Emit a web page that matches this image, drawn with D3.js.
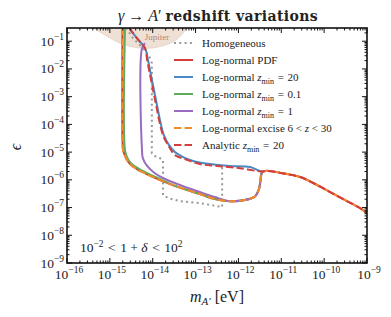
<!DOCTYPE html>
<html>
<head>
<meta charset="utf-8">
<script src="https://cdn.jsdelivr.net/npm/d3@7/dist/d3.min.js"></script>
<style>
  body { margin: 0; background: #fff; }
</style>
</head>
<body>
<svg id="chart" width="391" height="317" font-family="'Liberation Serif', 'Times New Roman', serif"></svg>
<script>
"use strict";
// all curves as [log10 m_A' (eV), log10 epsilon]
const homogeneous = [[-14.62,-0.52],[-14.46,-0.89],[-14.25,-1.22],[-14.09,-1.50],[-14.02,-1.79],[-14.02,-5.04],
    [-13.95,-5.14],[-13.83,-5.22],[-13.76,-5.29],[-13.76,-6.55],[-13.64,-6.66],[-13.36,-6.77],[-12.90,-6.84],
    [-12.38,-6.98],[-12.38,-5.50]];
const lognormalPDF = [[-14.705,-0.52],[-14.705,-4.57],[-14.69,-4.93],[-14.62,-5.22],[-14.53,-5.43],[-14.37,-5.61],
    [-14.18,-5.76],[-13.99,-5.90],[-13.53,-6.19],[-12.90,-6.51],[-12.55,-6.69],[-12.20,-6.77],[-11.85,-6.73],
    [-11.61,-6.59],[-11.52,-6.33],[-11.485,-6.01],[-11.46,-5.76],[-11.38,-5.68],[-10.98,-5.76],[-10.56,-5.90],
    [-10.21,-6.15],[-9.86,-6.44],[-9.51,-6.73],[-9.16,-7.02],[-9.0,-7.20]];
const zmin20 = [[-14.55,-0.52],[-14.37,-0.89],[-14.18,-1.25],[-14.11,-1.68],[-14.04,-2.23],[-13.97,-2.77],
    [-13.90,-3.31],[-13.83,-3.85],[-13.74,-4.39],[-13.62,-4.75],[-13.48,-5.00],[-13.29,-5.18],[-13.06,-5.32],
    [-12.66,-5.43],[-12.20,-5.50],[-11.73,-5.54],[-11.46,-5.70],[-11.38,-5.68]];
const zmin01 = [[-14.647,-0.52],[-14.647,-4.93],[-14.60,-5.18],[-14.51,-5.40],[-14.37,-5.56],[-14.13,-5.76],
    [-13.83,-5.97],[-13.53,-6.19],[-12.90,-6.51],[-12.55,-6.69],[-12.20,-6.77],[-11.85,-6.73],[-11.61,-6.59],
    [-11.52,-6.33],[-11.485,-6.01],[-11.46,-5.76]];
const zmin1 = [[-14.18,-1.07],[-14.25,-1.25],[-14.25,-4.93],[-14.23,-5.22],[-14.13,-5.50],[-13.95,-5.76],
    [-13.71,-5.97],[-13.29,-6.23],[-12.90,-6.44],[-12.55,-6.62],[-12.20,-6.77],[-11.85,-6.73],[-11.61,-6.59],
    [-11.52,-6.33],[-11.485,-6.01],[-11.46,-5.76]];
const excise = lognormalPDF;
const analytic20 = [[-14.55,-0.52],[-14.37,-0.89],[-14.18,-1.25],[-14.13,-1.68],[-14.06,-2.23],[-13.99,-2.77],
    [-13.92,-3.31],[-13.85,-3.85],[-13.76,-4.39],[-13.64,-4.75],[-13.48,-5.11],[-13.25,-5.25],[-12.90,-5.43],
    [-12.50,-5.50],[-11.96,-5.58],[-11.46,-5.70],[-11.38,-5.68],[-10.98,-5.76],[-10.56,-5.90],[-10.21,-6.15],
    [-9.86,-6.44],[-9.51,-6.73],[-9.16,-7.02],[-9.0,-7.20]];
const jupiter = [[-15.39,-0.52],[-15.11,-0.78],[-14.76,-1.07],[-14.41,-1.22],[-14.06,-1.25],[-13.71,-1.14],
    [-13.43,-0.93],[-13.2,-0.52]];

const xTickExps = [-16, -15, -14, -13, -12, -11, -10, -9];
const yTickExps = [-9, -8, -7, -6, -5, -4, -3, -2, -1];

const sp = "\u2004"; // wider math spacing around relations
const series = [
    { name: "homog", data: homogeneous, color: "#999999", dash: "2,3.3", label: [["Homogeneous"]] },
    { name: "pdf", data: lognormalPDF, color: "#d43d3a", dash: null, label: [["Log-normal PDF"]] },
    { name: "z20", data: zmin20, color: "#4a89c2", dash: null, label: [["Log-normal "], ["z", "i"], ["min", "sub"], [sp + "=" + sp + "20", "up"]] },
    { name: "z01", data: zmin01, color: "#5eab5a", dash: null, label: [["Log-normal "], ["z", "i"], ["min", "sub"], [sp + "=" + sp + "0.1", "up"]] },
    { name: "z1", data: zmin1, color: "#9a6cc0", dash: null, label: [["Log-normal "], ["z", "i"], ["min", "sub"], [sp + "=" + sp + "1", "up"]] },
    { name: "excise", data: excise, color: "#f28a2a", dash: "7.4,3.2", label: [["Log-normal excise 6 < "], ["z", "i"], [" < 30"]] },
    { name: "analytic", data: analytic20, color: "#d43d3a", dash: "7.4,3.2", label: [["Analytic "], ["z", "i"], ["min", "sub"], [sp + "=" + sp + "20", "up"]] }
];

function drawChart() {
    const svg = d3.select("#chart");
    const x0 = 67, x1 = 367, y0 = 28, y1 = 263;
    const ink = "#222";

    const x = d3.scaleLog().domain([1e-16, 1e-9]).range([x0, x1]);
    const y = d3.scaleLog().domain([1e-9, 0.3]).range([y1, y0]);
    const px = d => x(10 ** d[0]);
    const py = d => y(10 ** d[1]);

    svg.append("clipPath").attr("id", "clip")
        .append("rect").attr("x", x0).attr("y", y0).attr("width", x1 - x0).attr("height", y1 - y0);

    const plot = svg.append("g").attr("clip-path", "url(#clip)");

    // Jupiter region
    plot.append("path")
        .datum(jupiter)
        .attr("d", d3.line().x(px).y(py).curve(d3.curveCatmullRom.alpha(0.5)))
        .attr("fill", "#efe0d6")
        .attr("stroke", "#e4cfc2")
        .attr("stroke-width", 0.8);
    svg.append("text")
        .attr("x", x(10 ** -13.9)).attr("y", 40)
        .attr("text-anchor", "middle")
        .attr("font-size", 9)
        .attr("fill", "#b5876f")
        .text("Jupiter");

    const smooth = d3.line().x(px).y(py).curve(d3.curveCatmullRom.alpha(0.5));
    const straight = d3.line().x(px).y(py);

    plot.selectAll("path.curve")
        .data(series)
        .enter()
        .append("path")
        .attr("class", "curve")
        .attr("d", s => s.name === "homog" ? straight(s.data) : smooth(s.data))
        .attr("fill", "none")
        .attr("stroke", s => s.color)
        .attr("stroke-width", 2)
        .attr("stroke-dasharray", s => s.dash)
        .attr("stroke-linejoin", "round");

    // frame
    svg.append("rect")
        .attr("x", x0).attr("y", y0).attr("width", x1 - x0).attr("height", y1 - y0)
        .attr("fill", "none").attr("stroke", "#111").attr("stroke-width", 1.6);

    // ticks (inward, all four sides)
    const ticks = svg.append("g").attr("stroke", "#111").attr("stroke-width", 1);
    const xMinor = [], yMinor = [];
    xTickExps.slice(0, -1).forEach(e => { for (let k = 2; k < 10; k++) xMinor.push(k * 10 ** e); });
    yTickExps.forEach(e => { for (let k = 2; k < 10; k++) if (k * 10 ** e <= 0.3) yMinor.push(k * 10 ** e); });

    xTickExps.forEach(e => {
        const p = x(10 ** e);
        ticks.append("line").attr("x1", p).attr("x2", p).attr("y1", y1).attr("y2", y1 - 5);
        ticks.append("line").attr("x1", p).attr("x2", p).attr("y1", y0).attr("y2", y0 + 5);
    });
    xMinor.forEach(v => {
        const p = x(v);
        ticks.append("line").attr("x1", p).attr("x2", p).attr("y1", y1).attr("y2", y1 - 2.5);
        ticks.append("line").attr("x1", p).attr("x2", p).attr("y1", y0).attr("y2", y0 + 2.5);
    });
    yTickExps.forEach(e => {
        const p = y(10 ** e);
        ticks.append("line").attr("x1", x0).attr("x2", x0 + 5).attr("y1", p).attr("y2", p);
        ticks.append("line").attr("x1", x1).attr("x2", x1 - 5).attr("y1", p).attr("y2", p);
    });
    yMinor.forEach(v => {
        const p = y(v);
        ticks.append("line").attr("x1", x0).attr("x2", x0 + 2.5).attr("y1", p).attr("y2", p);
        ticks.append("line").attr("x1", x1).attr("x2", x1 - 2.5).attr("y1", p).attr("y2", p);
    });

    function powLabel(sel, e) {
        sel.append("tspan").text("10");
        sel.append("tspan").attr("dy", -6).attr("font-size", 9.5).text("\u2212" + Math.abs(e));
    }

    xTickExps.forEach(e => {
        const t = svg.append("text")
            .attr("x", x(10 ** e) + 2).attr("y", 279)
            .attr("text-anchor", "middle")
            .attr("font-size", 13.5)
            .attr("fill", ink);
        powLabel(t, e);
    });
    yTickExps.forEach(e => {
        const t = svg.append("text")
            .attr("x", 64).attr("y", y(10 ** e) + 4.5)
            .attr("text-anchor", "end")
            .attr("font-size", 13.5)
            .attr("fill", ink);
        powLabel(t, e);
    });

    // axis labels
    const xl = svg.append("text").attr("x", 217).attr("y", 302).attr("text-anchor", "middle")
        .attr("font-size", 16).attr("fill", ink);
    xl.append("tspan").attr("font-style", "italic").text("m");
    xl.append("tspan").attr("font-style", "italic").attr("font-size", 11).attr("dy", 3).text("A\u2032");
    xl.append("tspan").attr("dy", -3).text(" [eV]");

    svg.append("text")
        .attr("transform", "translate(21,147) rotate(-90)")
        .attr("text-anchor", "middle")
        .attr("font-size", 16)
        .attr("font-style", "italic")
        .attr("fill", ink)
        .text("\u03f5");

    // title
    const title = svg.append("text").attr("x", 218).attr("y", 21).attr("text-anchor", "middle")
        .attr("font-size", 16).attr("fill", ink);
    title.append("tspan").attr("font-style", "italic").text("\u03b3");
    title.append("tspan").text(" \u2192 ");
    title.append("tspan").attr("font-style", "italic").text("A");
    title.append("tspan").text("\u2032  ");
    title.append("tspan").attr("font-weight", "bold").attr("font-family", "'DejaVu Serif', serif")
        .attr("font-size", 14).attr("letter-spacing", 0.4).text("redshift variations");

    // annotation
    const ann = svg.append("text").attr("x", 80).attr("y", 252).attr("font-size", 13.5).attr("fill", ink);
    ann.append("tspan").text("10");
    ann.append("tspan").attr("dy", -5.5).attr("font-size", 9.5).text("\u22122");
    ann.append("tspan").attr("dy", 5.5).text(sp + "<" + sp + "1 + ");
    ann.append("tspan").attr("font-style", "italic").text("\u03b4");
    ann.append("tspan").text(sp + "<" + sp + "10");
    ann.append("tspan").attr("dy", -5.5).attr("font-size", 9.5).text("2");

    // legend
    const legend = svg.append("g");
    series.forEach((s, i) => {
        const ly = 43 + i * 17;
        legend.append("line")
            .attr("x1", 174).attr("x2", 193).attr("y1", ly).attr("y2", ly)
            .attr("stroke", s.color).attr("stroke-width", 2)
            .attr("stroke-dasharray", s.dash);
        const t = legend.append("text").attr("x", 202).attr("y", ly + 4)
            .attr("font-size", 11).attr("fill", ink);
        s.label.forEach(p => {
            const tsp = t.append("tspan").text(p[0]);
            if (p[1] === "i") tsp.attr("font-style", "italic");
            if (p[1] === "sub") tsp.attr("font-size", 8).attr("dy", 2.5);
            if (p[1] === "up") tsp.attr("dy", -2.5);
        });
    });
}

drawChart();
</script>
</body>
</html>
